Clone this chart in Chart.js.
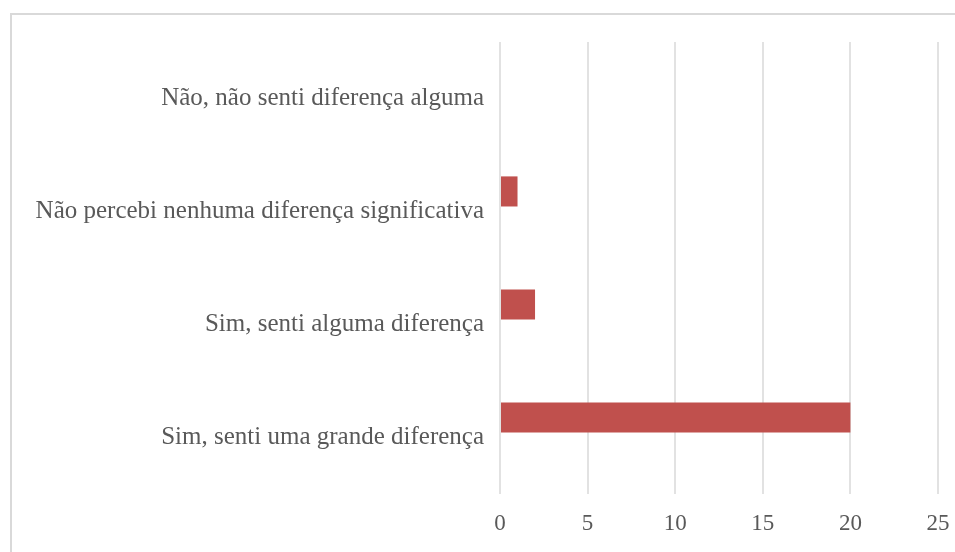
<!DOCTYPE html>
<html>
<head>
<meta charset="utf-8">
<script src="https://cdn.jsdelivr.net/npm/chart.js@4.4.1/dist/chart.umd.min.js"></script>
<style>
  html, body { margin: 0; padding: 0; background: #fff; overflow: hidden; }
  #wrap { width: 955px; height: 552px; position: relative; }
</style>
</head>
<body>
<div id="wrap"><canvas id="chart"></canvas></div>
<script>
    "use strict";

    var categories = [
        "Não, não senti diferença alguma",
        "Não percebi nenhuma diferença significativa",
        "Sim, senti alguma diferença",
        "Sim, senti uma grande diferença"
    ];
    var responses = [0, 1, 2, 20];
    var emptySeries = [0, 0, 0, 0];
    var xTicks = [0, 5, 10, 15, 20, 25];

    var textColor = "#595959";
    var lineColor = "#d9d9d9";
    var gridColor = "#e2e2e2";

    // outer frame of the chart (cut off on right and bottom in the picture)
    var frame = {
        id: "frame",
        beforeDraw: function (chart) {
            var ctx = chart.ctx;
            ctx.save();
            ctx.fillStyle = "#fff";
            ctx.fillRect(0, 0, chart.width, chart.height);
            ctx.strokeStyle = lineColor;
            ctx.lineWidth = 2;
            ctx.beginPath();
            ctx.moveTo(11, chart.height);
            ctx.lineTo(11, 14);
            ctx.lineTo(chart.width, 14);
            ctx.stroke();
            ctx.restore();
        }
    };

    var ctx = document.getElementById("chart").getContext("2d");
    new Chart(ctx, {
        type: "bar",
        data: {
            labels: categories,
            datasets: [
                {
                    data: responses,
                    backgroundColor: "#c0504d",
                    categoryPercentage: 0.71,
                    barPercentage: 0.75
                },
                {
                    data: emptySeries,
                    backgroundColor: "rgba(0,0,0,0)",
                    categoryPercentage: 0.71,
                    barPercentage: 0.75
                }
            ]
        },
        options: {
            indexAxis: "y",
            responsive: true,
            maintainAspectRatio: false,
            animation: false,
            layout: { padding: { top: 42, right: 17, bottom: 0, left: 11 } },
            plugins: {
                legend: { display: false },
                tooltip: { enabled: false }
            },
            scales: {
                x: {
                    min: 0,
                    max: 25,
                    afterBuildTicks: function (axis) {
                        axis.ticks = xTicks.map(function (v) { return { value: v }; });
                    },
                    afterFit: function (axis) {
                        axis.height = 58;
                        axis.paddingLeft = 0;
                        axis.paddingRight = 0;
                    },
                    grid: { color: gridColor, lineWidth: 2, drawTicks: false },
                    border: { display: false },
                    ticks: {
                        padding: 16,
                        color: textColor,
                        font: { family: "Liberation Serif", size: 23 }
                    }
                },
                y: {
                    afterFit: function (axis) {
                        axis.width = 489;
                        axis.paddingTop = 0;
                        axis.paddingBottom = 0;
                    },
                    grid: { display: false, drawTicks: false },
                    border: { display: false },
                    ticks: {
                        padding: 16,
                        color: textColor,
                        font: { family: "Liberation Serif", size: 25 }
                    }
                }
            }
        },
        plugins: [frame]
    });
</script>
</body>
</html>
